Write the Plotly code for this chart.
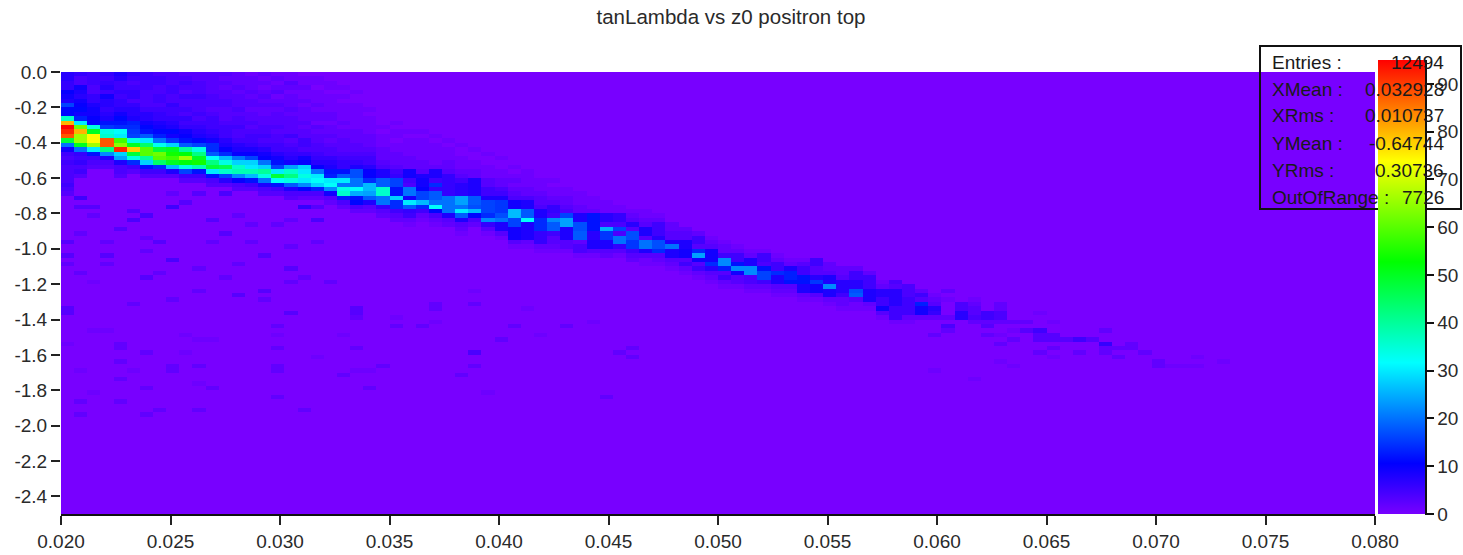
import plotly.graph_objects as go

TITLE = "tanLambda vs z0 positron top"
x_tick_vals = [0.02, 0.025, 0.03, 0.035, 0.04, 0.045, 0.05, 0.055, 0.06, 0.065, 0.07, 0.075, 0.08]
x_tick_text = ["0.020", "0.025", "0.030", "0.035", "0.040", "0.045", "0.050", "0.055", "0.060", "0.065", "0.070", "0.075", "0.080"]
y_tick_vals = [0.0, -0.2, -0.4, -0.6, -0.8, -1.0, -1.2, -1.4, -1.6, -1.8, -2.0, -2.2, -2.4]
y_tick_text = ["0.0", "-0.2", "-0.4", "-0.6", "-0.8", "-1.0", "-1.2", "-1.4", "-1.6", "-1.8", "-2.0", "-2.2", "-2.4"]
bar_ticks = [0, 10, 20, 30, 40, 50, 60, 70, 80, 90]
stat_names = ["Entries :", "XMean :", "XRms :", "YMean :", "YRms :", "OutOfRange :"]
stat_values = ["12494", "0.032928", "0.010737", "-0.64744", "0.30736", "7726"]

# histogram binning
x_first_center, x_bin = 0.0203, 0.0006
y_first_center, y_bin = -0.0125, -0.025
n_bins = 100

# counts per x bin: first row (from y=0 downward), then the counts from that row on
col_start = [0]*24 + [10, 10, 10, 12, 12, 14, 14, 14, 16, 18, 20, 21, 24, 24, 25, 26, 27, 28, 29, 30, 31, 32,
              34, 35, 36, 37, 38, 39, 40, 40, 41, 42, 42, 42, 43, 44, 44, 45, 47, 47, 48, 49, 50]
col_counts = [
 [7,7,6,6,10,9,8,16,11,11,36,80,95,92,88,48,20,9,5,4,5,4,4,4,4,5,4,3],
 [6,4,4,9,8,7,9,10,11,9,13,30,62,80,66,66,50,20,6,5,6,4,5,3],
 [5,5,5,4,4,6,6,8,9,9,10,11,34,50,74,74,66,30,12,5,4,3],
 [6,5,6,7,5,9,7,7,6,7,8,12,15,34,36,88,88,42,22,8,4,3],
 [8,7,5,5,6,5,6,6,7,9,11,12,14,32,30,58,64,92,28,24,8,4,4,3],
 [6,5,4,5,6,6,4,6,7,7,8,13,14,15,16,34,50,78,48,34,14,5,3],
 [5,5,5,5,4,4,4,4,5,7,7,9,11,12,18,30,44,60,60,40,28,12,5,3],
 [4,5,5,4,4,5,5,4,5,6,6,8,9,11,13,20,33,48,62,60,44,14,5,3],
 [4,4,4,5,5,4,4,6,5,5,6,7,8,11,9,15,28,50,54,58,50,26,8,3],
 [3,4,5,4,3,5,4,4,5,4,6,5,6,9,10,12,18,40,52,66,52,34,16,5,3],
 [3,3,4,4,4,5,4,4,4,5,4,5,6,7,8,11,16,34,42,50,54,38,12,5,3],
 [3,3,3,3,3,4,4,4,3,4,5,5,5,6,7,9,14,14,18,32,42,48,30,12,4,3],
 [3,2,3,2,3,3,4,4,3,3,3,4,5,5,5,7,8,10,14,26,34,46,36,16,7,3],
 [2,2,2,3,2,3,3,3,4,3,4,4,5,4,4,5,7,8,10,20,28,36,38,22,10,4,3],
 [1,2,2,2,3,2,3,3,2,3,3,4,3,4,5,5,6,8,10,16,28,30,38,26,12,5,3],
 [2,1,2,1,2,3,2,3,2,2,3,3,4,4,5,4,5,7,9,10,20,28,40,34,20,8,4,3],
 [1,2,1,2,3,1,2,3,2,3,3,3,4,3,4,4,5,5,7,9,12,16,30,48,32,12,5,3],
 [1,1,3,2,1,2,2,2,3,2,3,3,3,3,5,3,4,5,6,7,9,24,36,42,34,18,8,4,3],
 [0,1,1,2,1,1,2,1,2,2,2,3,2,3,3,5,5,4,6,9,10,28,30,34,30,22,11,4,2],
 [0,1,1,0,1,1,1,2,1,2,2,1,3,2,3,3,4,4,5,6,7,10,20,30,32,28,13,4,2],
 [0,0,1,1,0,1,1,1,1,2,2,1,2,2,3,2,3,4,4,6,7,8,12,13,30,32,22,9,3,2],
 [0,0,0,1,0,1,0,1,1,1,1,2,1,2,2,3,3,3,4,5,6,6,12,18,30,20,34,36,13,4,2],
 [0,0,0,0,1,0,0,1,1,1,1,1,1,2,2,2,3,3,4,5,6,8,17,17,20,20,32,25,12,11,4,2],
 [0,0,0,0,0,0,0,0,1,0,1,1,1,1,2,2,2,3,4,5,5,7,10,10,14,26,26,24,18,8,3,2],
 [0,0,1,0,1,1,1,2,2,2,3,4,8,8,18,18,36,36,20,20,6,3,2],
 [0,1,0,1,1,0,1,1,2,2,2,3,5,6,16,16,12,12,28,14,14,5,3,2],
 [0,0,0,1,0,1,1,1,1,2,2,2,9,9,5,4,20,20,9,30,18,6,5,2,1],
 [0,1,0,1,1,1,1,1,2,2,3,8,9,9,10,16,16,26,14,5,2,1],
 [0,0,1,0,1,1,1,1,1,2,8,8,5,14,6,18,18,20,32,11,4,2,1],
 [0,1,0,1,1,1,2,2,3,6,6,6,6,6,20,20,20,20,8,3,2],
 [0,0,1,0,0,1,1,1,2,3,5,7,7,7,24,24,20,30,18,8,3,2,1],
 [0,0,0,1,0,0,1,1,2,2,8,8,8,8,18,18,17,26,11,4,2],
 [0,0,1,0,0,1,1,1,3,3,5,5,8,16,16,16,14,22,6,3,1],
 [0,1,0,0,1,1,2,2,4,5,8,15,15,15,17,20,8,8,3,1],
 [0,1,0,1,2,1,2,3,4,9,9,26,26,16,16,9,9,9,3,1],
 [0,1,1,1,1,2,2,4,8,8,18,18,32,8,8,8,8,2,1],
 [1,1,1,2,3,3,4,8,8,14,14,14,6,6,6,2,1],
 [1,0,1,1,2,3,6,6,5,22,18,18,5,3,3,2,1],
 [0,1,1,2,2,3,4,16,24,24,8,8,8,3,3,1],
 [0,1,1,1,2,2,8,8,17,17,18,18,2,4,4,1],
 [0,1,1,1,2,12,12,12,12,7,7,8,8,3,1],
 [0,1,1,1,7,7,4,25,15,15,8,8,3,2],
 [0,1,1,6,6,4,16,4,20,20,6,3,1],
 [0,1,2,3,7,3,17,17,15,15,5,3,2],
 [1,1,2,3,8,8,3,20,20,8,3,1,1],
 [1,2,5,5,5,7,17,17,14,3,2,1],
 [2,2,3,3,8,20,8,8,3,2,1],
 [2,3,3,8,8,9,9,3,5,2,1],
 [2,5,5,3,14,24,9,3,5,2,1],
 [1,2,3,9,9,9,14,7,3,2,1],
 [1,2,2,5,22,22,13,3,5,2,1],
 [1,2,5,5,12,22,9,3,3,1],
 [1,2,8,8,22,22,4,4,2,1],
 [1,5,5,4,12,16,16,5,2,1],
 [1,2,5,5,14,8,8,3,2,1],
 [1,2,8,13,13,12,3,2,1],
 [1,3,5,5,12,12,8,8,2,1],
 [5,5,3,3,7,15,9,9,3,1],
 [2,2,3,8,8,22,8,8,2,1],
 [2,2,3,7,7,7,5,2,2,1],
 [2,5,5,7,7,17,18,3,1,1],
 [2,5,5,5,8,8,8,2,1],
 [1,2,7,7,5,5,9,3,1],
 [4,3,7,7,7,7,5,5,5,1],
 [4,4,4,5,5,5,5,2,1],
 [2,5,3,13,9,9,2],
 [1,2,3,7,6,2],
]

# isolated faint bins: x bin, row, count
sparse_col = [1,1,2,8,2,5,6,5,11,19,18,19,8,10,12,9,4,12,14,16,17,0,3,7,0,3,8,15,6,17,6,17,13,15,10,8,15,0,3,12,13,10,1,7,2,18,20,5,0,13,11,14,19,17,6,1,
              66,67,67,67,67,67,68,68,68,68,69,69,69,69,69,69,70,70,70,70,70,71,71,71,71,71,71,71,72,72,72,73,73,74,74,74,74,74,75,75,75,75,75,76,77,77,78,79,79,79,79,80,80,81,81,82,83,83,84,85,86,86,88,71,72,66,69,
              22,22,22,25,25,27,28,28,28,31,31,35,34,38,40,36,33,22,31,31,24,23,21,30,23,32,41,43,42,43,21,
              0,2,3,0,4,4,6,9,9,10,11,4,1,5,8,8,10,4,10,11,6,2,1,4,7,10,1,6,16,16,17,22,16,22,21,19,16,16,21,22,16,18]
sparse_row = [28,30,30,30,32,31,32,33,33,33,30,30,27,27,27,29,35,36,34,34,33,38,38,38,41,41,42,41,40,44,46,47,50,49,49,51,51,43,43,46,43,44,45,45,47,46,47,52,53,32,38,38,38,39,37,36,
              59,49,51,57,58,55,52,53,54,55,51,52,53,54,55,56,54,55,56,57,59,52,53,54,55,56,59,61,56,58,60,56,58,54,58,59,60,63,56,59,60,62,64,60,60,63,60,58,61,63,62,62,64,61,62,63,65,66,66,66,64,66,65,65,66,67,69,
              53,54,55,55,57,57,52,53,56,52,49,53,57,57,56,59,60,62,63,66,66,67,68,68,71,72,73,62,63,64,59,
              54,58,58,61,61,62,63,63,59,60,60,65,67,67,66,67,66,69,70,71,71,72,74,74,76,76,77,77,57,59,54,54,62,62,59,64,66,67,68,67,73,76]
sparse_val = [5,3,3,5,2,3,4,4,3,4,6,3,2,3,4,3,3,3,2,2,2,3,2,3,3,3,4,3,2,3,3,2,3,3,2,2,2,2,2,2,2,2,2,2,1,2,2,2,3,2,2,2,2,2,2,2,
              2,2,1,4,2,2,4,4,7,7,1,2,3,3,4,2,5,5,2,3,2,2,2,4,4,2,1,2,2,1,2,2,3,1,5,3,3,2,1,3,3,2,1,3,5,2,3,2,6,2,2,2,2,2,2,2,2,2,1,1,1,1,1,1,1,1,1,
              3,3,2,1,2,2,2,2,1,2,1,1,2,2,1,1,2,2,4,2,2,1,2,2,2,1,2,2,2,2,1,
              3,1,1,1,2,2,2,1,1,1,1,2,1,1,2,2,2,2,1,2,2,1,2,2,2,2,2,2,2,1,3,2,2,2,1,1,2,2,2,1,2,2]

z = [[0] * n_bins for _ in range(n_bins)]
for c, (start, counts) in enumerate(zip(col_start, col_counts)):
    for k, v in enumerate(counts):
        z[start + k][c] = v
for c, r, v in zip(sparse_col, sparse_row, sparse_val):
    z[r][c] = max(z[r][c], v)

W, H = 1463, 555
L, R, T, B = 61, 1425, 60, 514      # paper area in page pixels
PX, PY = R - L, B - T
def px(v): return (v - L) / PX
def py(v): return (B - v) / PY

FONT = "Liberation Sans, Arial, sans-serif"
INK = "#2a2a2a"
TICK_SIZE = 19
rainbow = [[0, "#7800ff"], [1/9, "#0000ff"], [1/3, "#00ffff"], [5/9, "#00ff00"], [7/9, "#ffff00"], [1, "#ff0000"]]

fig = go.Figure()
fig.add_trace(go.Heatmap(
    z=z, x0=x_first_center, dx=x_bin, y0=y_first_center, dy=y_bin,
    zmin=0, zmax=95, colorscale=rainbow, hoverongaps=False,
    colorbar=dict(x=px(1378), xanchor="left", xpad=0, y=0, yanchor="bottom", ypad=0,
                  len=1, lenmode="fraction", thickness=47, thicknessmode="pixels",
                  outlinewidth=0, tickmode="array", tickvals=bar_ticks, ticktext=[str(t) for t in bar_ticks],
                  ticks="outside", ticklen=9, tickwidth=1.5, tickcolor="#111",
                  tickfont=dict(family=FONT, size=TICK_SIZE, color=INK)),
))
# right edge of the colour bar with inward ticks
fig.add_trace(go.Scatter(x=[0, 1], y=[0, 95], mode="lines", line=dict(width=0), hoverinfo="skip",
                         showlegend=False, xaxis="x2", yaxis="y2"))

stat_y = [62, 89, 116, 143, 170, 197]
annotations = []
for name, val, y in zip(stat_names, stat_values, stat_y):
    annotations.append(dict(text=name, x=px(1270), y=py(y), xref="paper", yref="paper", xanchor="left", yanchor="middle",
                            showarrow=False, font=dict(family=FONT, size=19, color="#1a1a1a")))
    annotations.append(dict(text=val, x=px(1446), y=py(y), xref="paper", yref="paper", xanchor="right", yanchor="middle",
                            showarrow=False, font=dict(family=FONT, size=19, color="#1a1a1a")))

fig.update_layout(
    width=W, height=H, paper_bgcolor="white", plot_bgcolor="white",
    margin=dict(l=L, r=W - R, t=T, b=H - B, pad=0, autoexpand=False),
    font=dict(family=FONT, size=TICK_SIZE, color=INK),
    title=dict(text=TITLE, x=731 / W, xanchor="center", xref="container", y=1 - 17 / H, yanchor="middle", yref="container",
               font=dict(family=FONT, size=20.5, color=INK)),
    xaxis=dict(domain=[0, px(1375)], range=[0.02, 0.08], tickmode="array", tickvals=x_tick_vals, ticktext=x_tick_text,
               ticks="outside", ticklen=9, tickwidth=1.5, tickcolor="#222", showline=True, linecolor="#111", linewidth=2,
               showgrid=False, zeroline=False, tickfont=dict(family=FONT, size=TICK_SIZE, color=INK), anchor="y"),
    yaxis=dict(domain=[0, py(72)], range=[-2.5, 0], tickmode="array", tickvals=y_tick_vals, ticktext=y_tick_text,
               ticks="outside", ticklen=9, tickwidth=1.5, tickcolor="#222", showline=False,
               showgrid=False, zeroline=False, tickfont=dict(family=FONT, size=TICK_SIZE, color=INK), anchor="x"),
    xaxis2=dict(domain=[px(1378), 1], range=[0, 1], visible=False, anchor="y2"),
    yaxis2=dict(domain=[0, 1], range=[0, 95], side="right", anchor="x2", tickmode="array", tickvals=bar_ticks,
                ticks="inside", ticklen=9, tickwidth=1.5, tickcolor="#111", showticklabels=False,
                showline=True, linecolor="#111", linewidth=2, showgrid=False, zeroline=False),
    shapes=[dict(type="rect", xref="paper", yref="paper", x0=px(1260), x1=px(1461), y0=py(209), y1=py(46),
                 line=dict(color="#111", width=2), fillcolor="rgba(0,0,0,0)", layer="above")],
    annotations=annotations,
    showlegend=False,
)
fig.write_html("out.html", config={"displayModeBar": False},
               post_script="document.body.style.margin='0';document.body.style.overflow='hidden';")
